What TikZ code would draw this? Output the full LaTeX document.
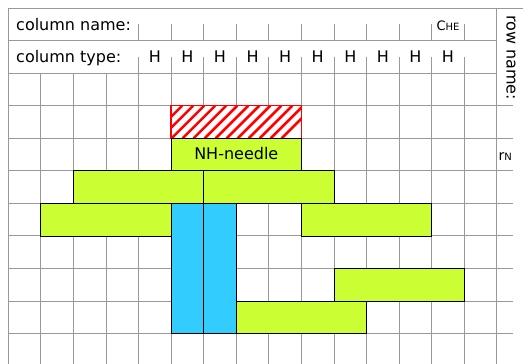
\documentclass[tikz,border=0pt]{standalone}
\usepackage{fontspec}
\setmainfont{DejaVu Sans}
\definecolor{limegr}{RGB}{204,255,51}
\definecolor{skyb}{RGB}{51,204,255}
\begin{document}
\begin{tikzpicture}[x=1pt,y=-1pt,font=\fontsize{16}{19}\selectfont,
  gridline/.style={draw=black!40,line width=1pt},
  gbox/.style={fill=limegr,draw=black,line width=0.9pt},
  bbox/.style={fill=skyb,draw=black,line width=0.9pt},
  lbl/.style={inner sep=0pt}]
\useasboundingbox (0,0) rectangle (523,364);
\fill[white] (0,0) rectangle (523,364);
\begin{scope}[shift={(8.3,8.0)},x=32.57pt,y=-32.57pt]
  % grid
  \foreach \i in {1,...,14} \draw[gridline] (\i,2) -- (\i,11);
  \draw[gridline] (0,0) -- (0,11);
  \draw[gridline] (15,0) -- (15,11);
  \foreach \i in {4,...,14} {
    \draw[gridline] (\i,0.5) -- (\i,1);
    \draw[gridline] (\i,1.5) -- (\i,2);
  }
  \draw[gridline] (0,0) -- (15.8,0);
  \draw[gridline] (0,1) -- (15,1);
  \draw[gridline] (0,2) -- (15,2);
  \foreach \j in {3,...,10} \draw[gridline] (0,\j) -- (15.5,\j);
  % hatched box
  \begin{scope}
    \clip (5,3) rectangle (9,4);
    \fill[white] (5,3) rectangle (9,4);
    \foreach \k in {-4,...,13} \draw[red,line width=2.6pt] ({4+\k*0.338},4) -- ({5+\k*0.338},3);
  \end{scope}
  \draw[red,line width=1.5pt] (5,3) rectangle (9,4);
  % boxes
  \draw[gbox] (5,4) rectangle (9,5);
  \draw[gbox] (2,5) rectangle (6,6);
  \draw[gbox] (6,5) rectangle (10,6);
  \draw[gbox] (1,6) rectangle (5,7);
  \draw[gbox] (9,6) rectangle (13,7);
  \draw[bbox] (5,6) rectangle (6,10);
  \draw[bbox] (6,6) rectangle (7,10);
  \draw[gbox] (10,8) rectangle (14,9);
  \draw[gbox] (7,9) rectangle (11,10);
\end{scope}
% texts
\node[lbl,anchor=base west] (cname) at (16,30.5) {column name:};
\node[lbl,anchor=base west] (ctype) at (16,62.5) {column type:};
\foreach \i in {4,...,13} \node[lbl,anchor=base] (h\i) at ({8.3+(\i+0.5)*32.57},62.5) {H};
\node[lbl,anchor=base] (che) at (448,30.5) {\fontsize{13}{15}\selectfont C\fontsize{10}{12}\selectfont HE};
\node[lbl,rotate=-90,anchor=base west] (rname) at (506.5,15) {row name:};
\node[lbl,anchor=base west] (rN) at (498.5,160) {\fontsize{14}{16}\selectfont r\fontsize{10}{12}\selectfont N};
\node[lbl,anchor=base] (nh) at (236.3,159.5) {NH-needle};
\end{tikzpicture}
\end{document}
